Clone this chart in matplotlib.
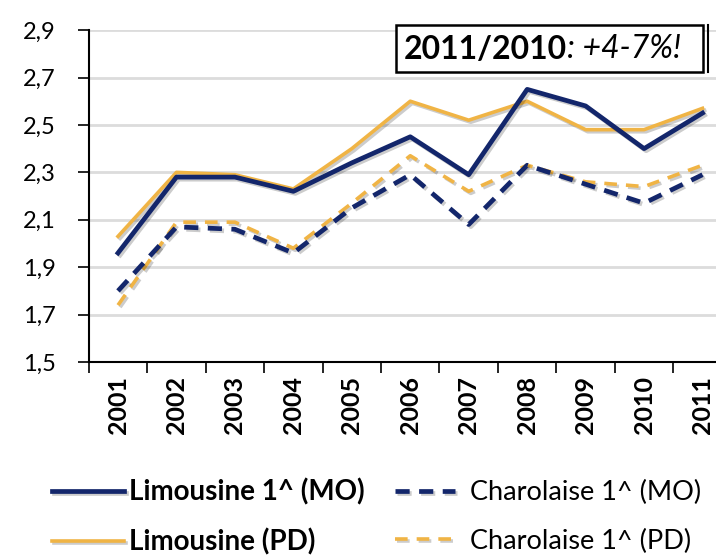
import numpy as np
import matplotlib
matplotlib.use("Agg")
from matplotlib import pyplot
from matplotlib.patches import Rectangle
from matplotlib.lines import Line2D
import matplotlib.patheffects as pe

years = ["2001", "2002", "2003", "2004", "2005", "2006", "2007", "2008", "2009", "2010", "2011"]
limousine_mo = [1.96, 2.28, 2.28, 2.22, 2.34, 2.45, 2.29, 2.65, 2.58, 2.40, 2.55]
limousine_pd = [2.03, 2.30, 2.29, 2.23, 2.40, 2.60, 2.52, 2.60, 2.48, 2.48, 2.57]
charolaise_mo = [1.80, 2.07, 2.06, 1.96, 2.15, 2.29, 2.08, 2.33, 2.25, 2.17, 2.29]
charolaise_pd = [1.74, 2.09, 2.09, 1.98, 2.17, 2.37, 2.22, 2.33, 2.26, 2.24, 2.33]
y_ticks = [1.5, 1.7, 1.9, 2.1, 2.3, 2.5, 2.7, 2.9]

navy = "#13266b"
orange = "#f0b445"
pyplot.rcParams['font.family'] = ["Lato", "DejaVu Sans"]

fig = pyplot.figure(figsize=(7.16, 5.57), dpi=100)
ax = fig.add_axes([0.124, 0.350, 0.898, 0.596])

x = np.arange(len(years))
shadow = [pe.SimpleLineShadow(offset=(1.5, -1.5), alpha=0.2), pe.Normal()]
l_pd, = ax.plot(x, limousine_pd, color=orange, lw=2.6, label="Limousine (PD)",
                path_effects=shadow, zorder=3)
l_mo, = ax.plot(x, limousine_mo, color=navy, lw=3.4, label="Limousine 1^ (MO)",
                path_effects=shadow, zorder=4)
c_pd, = ax.plot(x, charolaise_pd, color=orange, lw=2.6, ls=(0, (3.5, 2.5)),
                label="Charolaise 1^ (PD)", path_effects=shadow, zorder=3)
c_mo, = ax.plot(x, charolaise_mo, color=navy, lw=3.4, ls=(0, (3, 2)),
                label="Charolaise 1^ (MO)", path_effects=shadow, zorder=4)

ax.set_xlim(-0.5, len(years) - 0.5)
ax.set_ylim(1.5, 2.9)
ax.set_yticks(y_ticks)
ax.set_yticklabels([("%.1f" % v).replace(".", ",") for v in y_ticks],
                   fontsize=17)
ax.set_xticks(x)
ax.set_xticklabels(years, rotation=90, fontsize=18, fontweight="bold")
ax.set_xticks(np.arange(-0.5, len(years)), minor=True)
ax.tick_params(axis="x", which="major", length=0, pad=10)
ax.tick_params(axis="x", which="minor", length=8, width=1.2, direction="out")
ax.tick_params(axis="y", length=8, width=1.2, direction="out", pad=16)
for v in y_ticks[1:]:
    ax.axhline(v, color="#dcdcdc", lw=2, zorder=1)
for side in ["top", "right"]:
    ax.spines[side].set_visible(False)
for side in ["left", "bottom"]:
    ax.spines[side].set_linewidth(1.5)

# annotation box
fig.patches.append(Rectangle((0.553, 0.871), 0.429, 0.084, transform=fig.transFigure,
                             facecolor="white", edgecolor="black", lw=1.8, zorder=10))
fig.lines.append(Line2D([0.989, 0.989], [0.871, 0.955], transform=fig.transFigure,
                        color="black", lw=1.5, zorder=10))
t1 = fig.text(0.564, 0.912, "2011/2010", fontsize=23, fontweight="bold",
              va="center", ha="left", zorder=11)
fig.canvas.draw()
bb = t1.get_window_extent()
fig.text(bb.x1 / fig.bbox.width, 0.912, ": +4-7%!", fontsize=23, style="italic",
         va="center", ha="left", zorder=11)

# legend: two single-column blocks
leg1 = fig.legend([l_mo, l_pd], [l_mo.get_label(), l_pd.get_label()],
                  loc="center left", bbox_to_anchor=(0.072, 0.0718), frameon=False,
                  handlelength=2.6, handletextpad=0.18,
                  labelspacing=0.82, borderpad=0, borderaxespad=0,
                  prop={"weight": "bold", "size": 20})
leg2 = fig.legend([c_mo, c_pd], [c_mo.get_label(), c_pd.get_label()],
                  loc="center left", bbox_to_anchor=(0.552, 0.0718), frameon=False,
                  handlelength=2.2, handletextpad=0.55,
                  labelspacing=0.85, borderpad=0, borderaxespad=0,
                  prop={"size": 19.5})

fig.savefig("out.png", dpi=100)
